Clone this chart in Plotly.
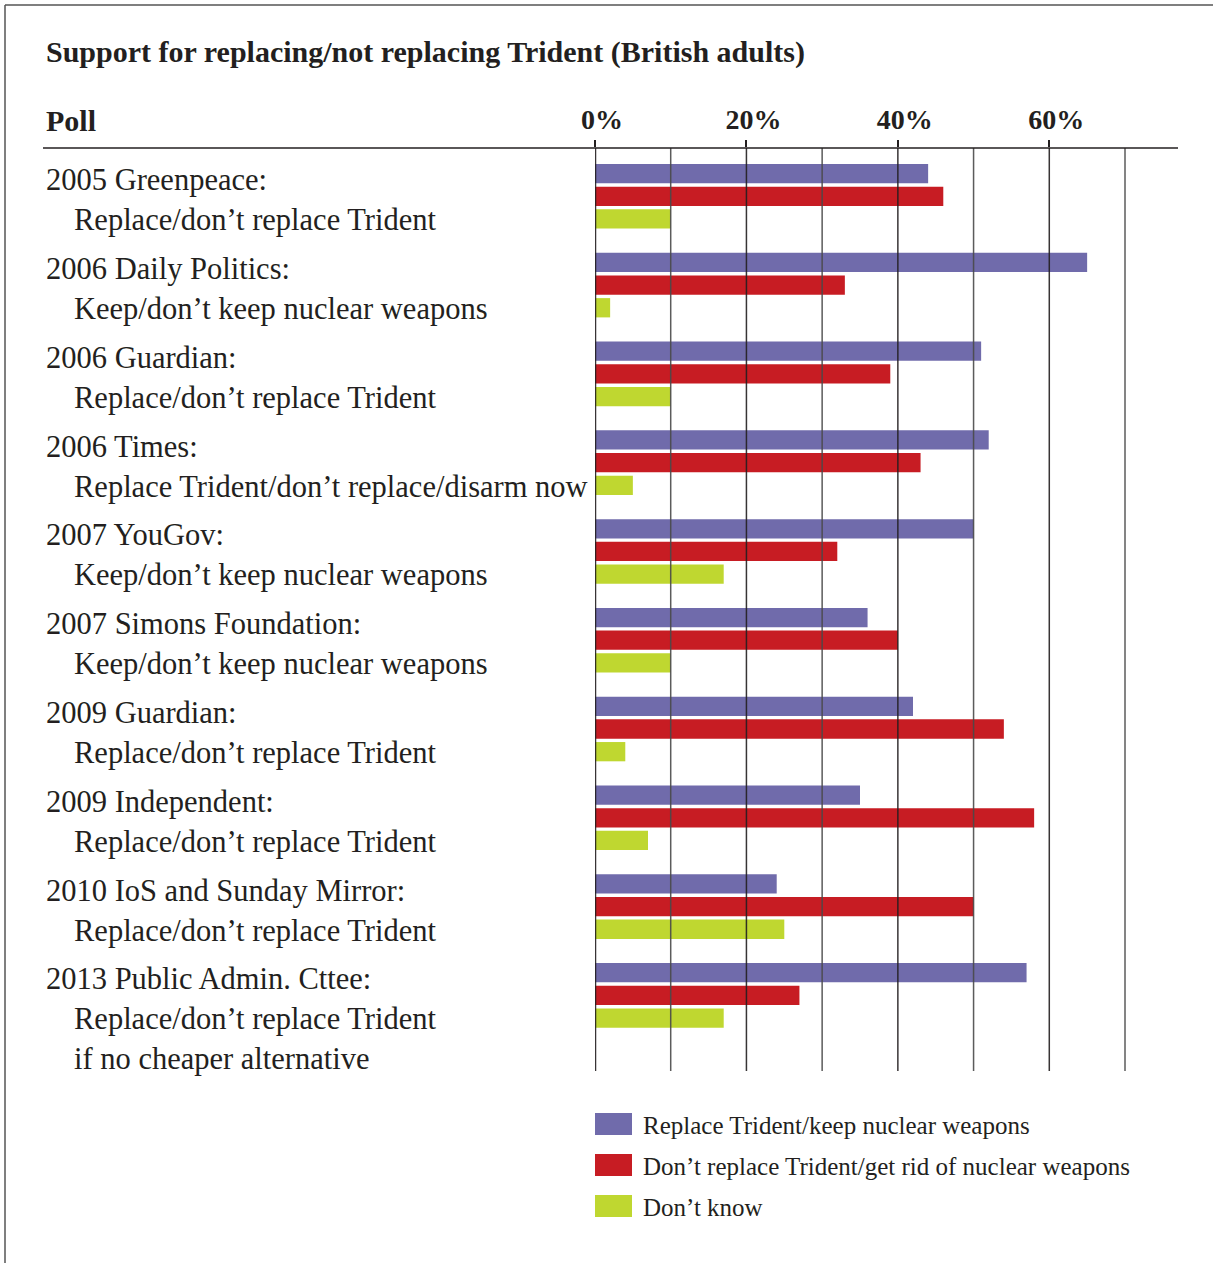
import plotly.graph_objects as go

# ---------------- data ----------------
polls = [
    "2005 Greenpeace:",
    "2006 Daily Politics:",
    "2006 Guardian:",
    "2006 Times:",
    "2007 YouGov:",
    "2007 Simons Foundation:",
    "2009 Guardian:",
    "2009 Independent:",
    "2010 IoS and Sunday Mirror:",
    "2013 Public Admin. Cttee:",
]
questions = [
    ["Replace/don’t replace Trident"],
    ["Keep/don’t keep nuclear weapons"],
    ["Replace/don’t replace Trident"],
    ["Replace Trident/don’t replace/disarm now"],
    ["Keep/don’t keep nuclear weapons"],
    ["Keep/don’t keep nuclear weapons"],
    ["Replace/don’t replace Trident"],
    ["Replace/don’t replace Trident"],
    ["Replace/don’t replace Trident"],
    ["Replace/don’t replace Trident", "if no cheaper alternative"],
]
replace_keep = [44, 65, 51, 52, 50, 36, 42, 35, 24, 57]
dont_replace = [46, 33, 39, 43, 32, 40, 54, 58, 50, 27]
dont_know = [10, 2, 10, 5, 17, 10, 4, 7, 25, 17]

series_names = [
    "Replace Trident/keep nuclear weapons",
    "Don’t replace Trident/get rid of nuclear weapons",
    "Don’t know",
]
series_values = [replace_keep, dont_replace, dont_know]
series_colors = ["#706BAB", "#C71C23", "#BFD730"]

grid_values = [0, 10, 20, 30, 40, 50, 60, 70]
tick_values = [0, 20, 40, 60]
tick_labels = ["0%", "20%", "40%", "60%"]

title_text = "Support for replacing/not replacing Trident (British adults)"
header_text = "Poll"

# ---------------- layout constants ----------------
W, H = 1213, 1263
L, R, T, B = 595, 35, 148, 192
PW = W - L - R
PH = H - T - B
FONT = "Liberation Serif"
TXT = "#231F20"
LABEL_SIZE = 30.5


def px_x(px):
    return (px - L) / PW


def px_y(py):
    return 1 - (py - T) / PH


fig = go.Figure()
for name, vals, col in zip(series_names, series_values, series_colors):
    fig.add_trace(go.Bar(
        y=polls, x=vals, name=name, orientation="h",
        marker=dict(color=col, line=dict(width=0)),
        showlegend=False,
    ))

fig.update_layout(
    width=W, height=H,
    margin=dict(l=L, r=R, t=T, b=B, pad=0),
    paper_bgcolor="white", plot_bgcolor="white",
    barmode="group", bargap=0.234, bargroupgap=0.15,
    font=dict(family=FONT, color=TXT),
    xaxis=dict(
        side="top", range=[0, 77], tickvals=tick_values, ticktext=tick_labels,
        showgrid=False, zeroline=False, showline=False,
        ticks="outside", ticklen=7, tickwidth=1.5, tickcolor="#231F20",
        ticklabelstandoff=0, ticklabelshift=7,
        tickfont=dict(family=FONT, size=28, color=TXT, weight="bold"),
        fixedrange=True,
    ),
    yaxis=dict(
        type="category", categoryarray=polls, range=[9.852, -0.544],
        showticklabels=False, showgrid=False, zeroline=False, showline=False,
        ticks="", fixedrange=True,
    ),
)

# grid lines drawn above bars (as in the reference)
for gv in grid_values:
    major = gv in tick_values
    fig.add_shape(type="line", xref="x", yref="paper", x0=gv, x1=gv, y0=0, y1=1,
                  line=dict(color="#231F20" if major else "#4a4a4a",
                            width=2.5 if gv == 0 else 1.5),
                  layer="above", opacity=0.9)

# header rule
fig.add_shape(type="line", xref="paper", yref="paper", x0=px_x(43), x1=px_x(1178),
              y0=1, y1=1, line=dict(color="#231F20", width=1.5))

# frame (top and left border)
fig.add_shape(type="line", xref="paper", yref="paper", x0=px_x(5), x1=px_x(1230),
              y0=px_y(5), y1=px_y(5), line=dict(color="#555555", width=1.5))
fig.add_shape(type="line", xref="paper", yref="paper", x0=px_x(5), x1=px_x(5),
              y0=px_y(5), y1=px_y(1280), line=dict(color="#555555", width=1.5))

# title and column header
fig.add_annotation(text=f"<b>{title_text}</b>", xref="paper", yref="paper",
                   x=px_x(44), y=px_y(52), xanchor="left", yanchor="middle",
                   showarrow=False, font=dict(family=FONT, size=30, color=TXT))
fig.add_annotation(text=f"<b>{header_text}</b>", xref="paper", yref="paper",
                   x=px_x(44), y=px_y(120), xanchor="left", yanchor="middle",
                   showarrow=False, font=dict(family=FONT, size=30, color=TXT))

# category labels
for poll, qlines in zip(polls, questions):
    fig.add_annotation(text=poll, xref="paper", yref="y", x=px_x(44), y=poll,
                       yshift=16, xanchor="left", yanchor="middle", showarrow=False,
                       font=dict(family=FONT, size=LABEL_SIZE, color=TXT))
    for k, q in enumerate(qlines):
        fig.add_annotation(text=q, xref="paper", yref="y", x=px_x(72), y=poll,
                           yshift=-24 - 40 * k, xanchor="left", yanchor="middle",
                           showarrow=False,
                           font=dict(family=FONT, size=LABEL_SIZE, color=TXT))

# custom legend
for i, (name, col) in enumerate(zip(series_names, series_colors)):
    cy = 1124 + 41 * i
    fig.add_shape(type="rect", xref="paper", yref="paper",
                  x0=px_x(595), x1=px_x(632), y0=px_y(cy - 11), y1=px_y(cy + 11),
                  fillcolor=col, line=dict(width=0))
    fig.add_annotation(text=name, xref="paper", yref="paper", x=px_x(641),
                       y=px_y(cy + 1), xanchor="left", yanchor="middle",
                       showarrow=False, font=dict(family=FONT, size=25, color=TXT))

fig.write_html("out.html", config={"displayModeBar": False},
               post_script="document.body.style.margin='0px';document.body.style.overflow='hidden';")
